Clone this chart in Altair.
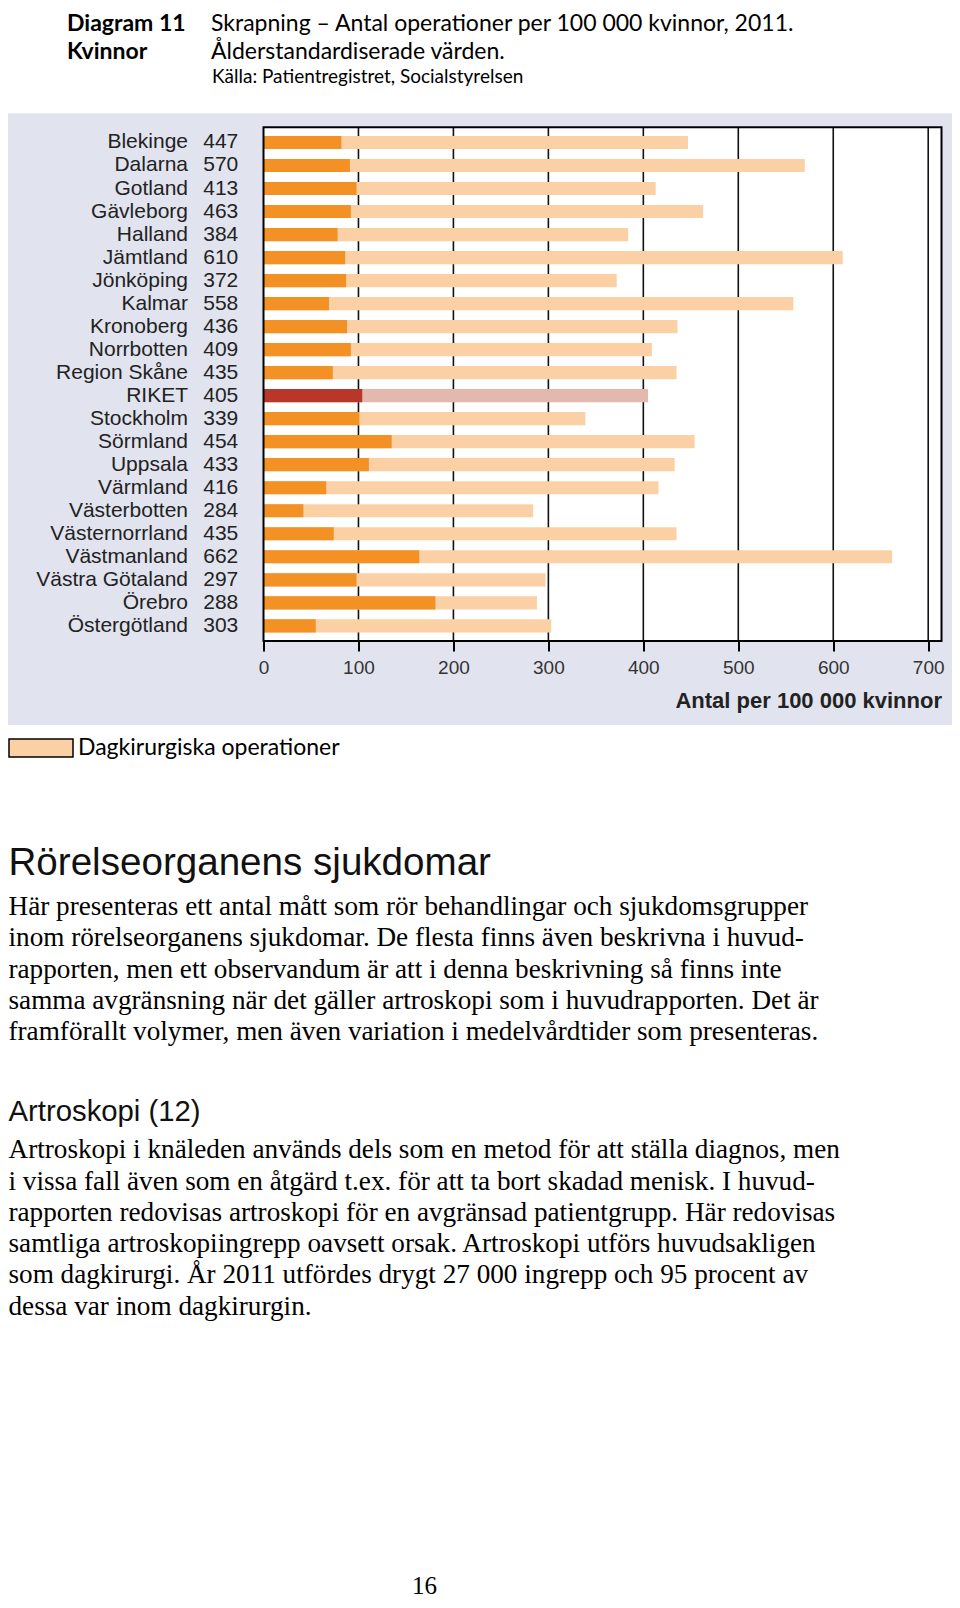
import altair as alt
import pandas as pd

# ---------------- data ----------------
regions = ["Blekinge", "Dalarna", "Gotland", "Gävleborg", "Halland", "Jämtland",
           "Jönköping", "Kalmar", "Kronoberg", "Norrbotten", "Region Skåne", "RIKET",
           "Stockholm", "Sörmland", "Uppsala", "Värmland", "Västerbotten",
           "Västernorrland", "Västmanland", "Västra Götaland", "Örebro", "Östergötland"]
totals = [447, 570, 413, 463, 384, 610, 372, 558, 436, 409, 435, 405,
          339, 454, 433, 416, 284, 435, 662, 297, 288, 303]
inpatient = [82, 91, 98, 92, 78, 86, 87, 69, 88, 92, 73, 104,
             101, 135, 111, 66, 42, 74, 164, 98, 181, 55]
series_label = "Dagkirurgiska operationer"
tick_values = [0, 100, 200, 300, 400, 500, 600, 700]
grid_values = [100, 200, 300, 400, 500, 600, 700]

header_left = ["Diagram 11", "Kvinnor"]
header_right = ["Skrapning – Antal operationer per 100 000 kvinnor, 2011.",
                "Ålderstandardiserade värden."]
source_text = "Källa: Patientregistret, Socialstyrelsen"
axis_title = "Antal per 100 000 kvinnor"
heading1 = "Rörelseorganens sjukdomar"
para1 = ["Här presenteras ett antal mått som rör behandlingar och sjukdomsgrupper",
         "inom rörelseorganens sjukdomar. De flesta finns även beskrivna i huvud-",
         "rapporten, men ett observandum är att i denna beskrivning så finns inte",
         "samma avgränsning när det gäller artroskopi som i huvudrapporten. Det är",
         "framförallt volymer, men även variation i medelvårdtider som presenteras."]
heading2 = "Artroskopi (12)"
para2 = ["Artroskopi i knäleden används dels som en metod för att ställa diagnos, men",
         "i vissa fall även som en åtgärd t.ex. för att ta bort skadad menisk. I huvud-",
         "rapporten redovisas artroskopi för en avgränsad patientgrupp. Här redovisas",
         "samtliga artroskopiingrepp oavsett orsak.  Artroskopi utförs huvudsakligen",
         "som dagkirurgi. År 2011 utfördes drygt 27 000 ingrepp och 95 procent av",
         "dessa var inom dagkirurgin."]
page_number = "16"

df = pd.DataFrame({"region": regions, "total": totals, "inpatient": inpatient,
                   "serie": [series_label] * len(regions)})
grid_df = pd.DataFrame({"grid": grid_values})
one = pd.DataFrame({"k": [0]})

# ---------------- layout ----------------
OX, OY = 263.5, 127.3          # page position of plot origin
W, H = 678, 513.7
SVG_W, SVG_H = 944, 1592
PAD_L, PAD_T = OX - 8, OY - 8


def px(x):
    return x - OX


def py(y):
    return y - OY


ORANGE = "#F39124"
PEACH = "#FBD0A4"
RED = "#B8372A"
RED_LIGHT = "#E2B9AC"
PANEL = "#E1E4EF"

xscale = alt.Scale(domain=[0, 714], nice=False, zero=True)
xaxis = alt.Axis(values=tick_values, tickSize=10, tickColor="#000", tickWidth=2,
                 domain=False, grid=False, labelFont="Liberation Sans",
                 labelFontSize=19, labelColor="#333", labelPadding=16,
                 labelBaseline="middle", labelFlush=False, labelOverlap=False,
                 title=axis_title, titleFont="Liberation Sans", titleFontSize=22,
                 titleFontWeight="bold", titleColor="#222", titleAlign="right",
                 titleAnchor="end", titleX=W, titleY=59, titleBaseline="middle",
                 zindex=1)
yscale = alt.Scale(paddingInner=0.427, paddingOuter=0.373)
yaxis = alt.Axis(title=None, ticks=False, domain=False, grid=False,
                 labelFont="Liberation Sans", labelFontSize=21, labelColor="#222",
                 labelPadding=76, labelLimit=300, zindex=1)


def X(field):
    return alt.X(field, type="quantitative", scale=xscale, axis=xaxis)


Y = alt.Y("region:N", sort=regions, scale=yscale, axis=yaxis)


def rect(x1, x2, y1, y2, **kw):
    return alt.Chart(one).mark_rect(**kw).encode(
        x=alt.value(x1), x2=alt.value(x2), y=alt.value(y1), y2=alt.value(y2))


def txt(lines, x, y, font, size, weight="normal", color="#000", lh=None,
        align="left"):
    m = dict(text=lines, font=font, fontSize=size, fontWeight=weight,
             color=color, align=align, baseline="alphabetic")
    if lh:
        m["lineHeight"] = lh
    return alt.Chart(one).mark_text(**m).encode(x=alt.value(px(x)), y=alt.value(py(y)))


panel = rect(px(8), px(952), py(113.3), py(725), color=PANEL)
plotbg = rect(0, W, 0, H, color="white")

grid = alt.Chart(grid_df).mark_rule(color="#111", strokeWidth=1.6).encode(
    x=X("grid"), y=alt.value(0), y2=alt.value(H))

base = alt.Chart(df)
peach = base.transform_filter(alt.datum.region != "RIKET").mark_bar(opacity=1).encode(
    x=X("total"), y=Y,
    color=alt.Color("serie:N", scale=alt.Scale(range=[PEACH]),
                    legend=alt.Legend(orient="none", legendX=px(8), legendY=py(747) - 32,
                                      title=None, symbolType="M-1,-0.28H1V0.28H-1Z",
                                      symbolSize=4096, symbolStrokeColor="#000",
                                      symbolStrokeWidth=1.5, symbolOpacity=1,
                                      labelFont="Lato", labelFontSize=23,
                                      labelColor="#000", labelOffset=4, padding=0,
                                      labelLimit=400)))
riket_light = base.transform_filter(alt.datum.region == "RIKET").mark_bar(
    color=RED_LIGHT, opacity=1).encode(x=X("total"), y=Y)
darkbars = base.mark_bar(opacity=1).encode(
    x=X("inpatient"), y=Y,
    color=alt.condition(alt.datum.region == "RIKET", alt.value(RED), alt.value(ORANGE)))
frame = rect(0, W, 0, H, fill="white", fillOpacity=0, stroke="#000", strokeWidth=2)
numbers = base.mark_text(align="right", baseline="middle", font="Liberation Sans",
                         fontSize=21, color="#222").encode(
    x=alt.value(-25.2), y=Y, text="total:Q")

texts = [
    txt(header_left[0], 67, 30.8, "Lato", 23, weight="bold"),
    txt(header_left[1], 67, 58.6, "Lato", 23, weight="bold"),
    txt(header_right[0], 211, 30.8, "Lato", 23),
    txt(header_right[1], 211, 58.6, "Lato", 23),
    txt(source_text, 212, 82.6, "Lato", 19),
    txt(heading1, 8.5, 875, "Liberation Sans", 38.6, color="#111"),
    txt(para1, 8.5, 915, "Liberation Serif", 27.2, lh=31.3),
    txt(heading2, 8.5, 1121, "Liberation Sans", 29.3, color="#111"),
    txt(para2, 8.5, 1158.3, "Liberation Serif", 27.2, lh=31.3),
    txt(page_number, 424.5, 1594, "Liberation Serif", 25, align="center"),
]

chart = alt.layer(panel, plotbg, grid, peach, riket_light, darkbars, frame, numbers,
                  *texts).properties(
    width=W, height=H,
    autosize=alt.AutoSizeParams(type="none"),
    padding={"left": PAD_L, "top": PAD_T, "right": SVG_W - PAD_L - W,
             "bottom": SVG_H - PAD_T - H},
    background="white",
).configure_view(strokeWidth=0)

chart.save("out.html", embed_options={"renderer": "svg", "actions": False})
